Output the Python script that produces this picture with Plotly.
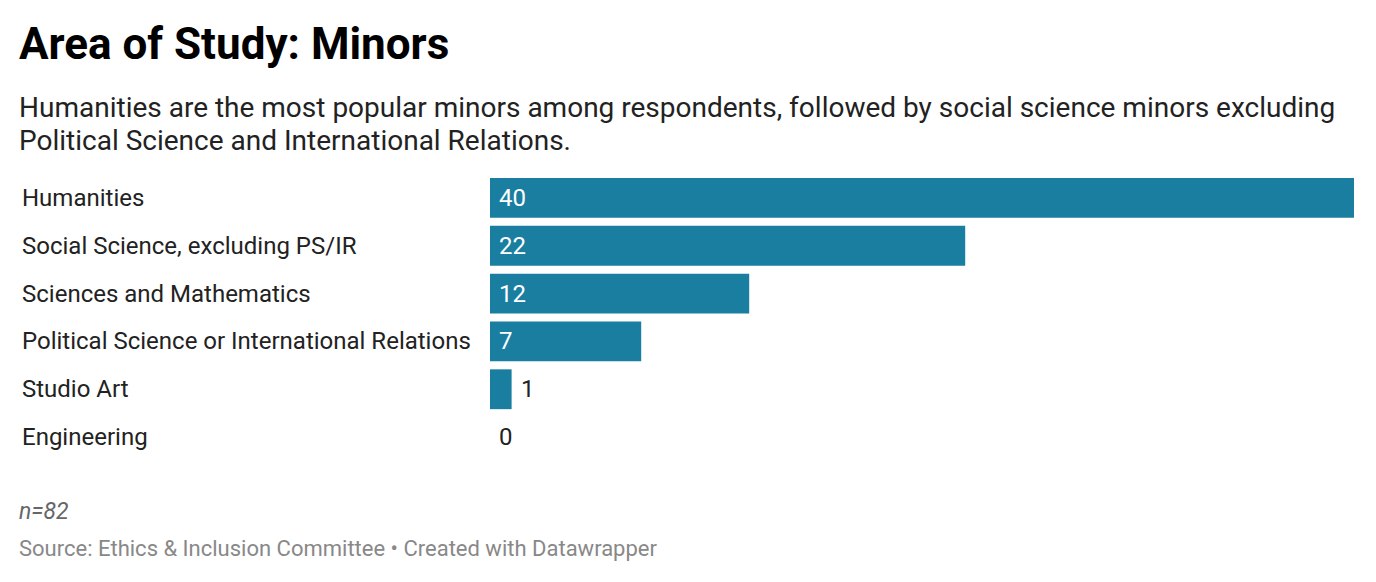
import plotly.graph_objects as go

categories = [
    "Humanities",
    "Social Science, excluding PS/IR",
    "Sciences and Mathematics",
    "Political Science or International Relations",
    "Studio Art",
    "Engineering",
]
counts = [40, 22, 12, 7, 1, 0]

title = "Area of Study: Minors"
subtitle_lines = [
    "Humanities are the most popular minors among respondents, followed by social science minors excluding",
    "Political Science and International Relations.",
]
note = "n=82"
source = "Source: Ethics & Inclusion Committee • Created with Datawrapper"

# page has an 8px body margin, so the figure is a bit smaller than the window
W, H = 1360, 566
L, R, T, B = 482, 14, 166, 112.5
plot_h = H - T - B


def py(p):
    # pixel row (figure coords) -> paper y
    return (H - B - p) / plot_h


FONT = "Roboto"
BAR = "#1a7ea0"

fig = go.Figure(go.Bar(
    x=counts, y=categories, orientation="h",
    marker=dict(color=BAR, line=dict(width=0)),
    hoverinfo="skip",
))

annotations = []
for cat, val in zip(categories, counts):
    # category label on the left
    annotations.append(dict(
        x=0, xref="paper", xshift=-(L - 12), xanchor="left",
        y=cat, yref="y", yanchor="middle",
        text=cat, showarrow=False,
        font=dict(family=FONT, size=24, color="#222222"),
    ))
    # value label, inside when the bar is wide enough
    inside = val >= 5
    annotations.append(dict(
        x=0 if inside else val, xref="x", xshift=7, xanchor="left",
        y=cat, yref="y", yanchor="middle",
        text=str(val), showarrow=False,
        font=dict(family=FONT, size=24, color="#ffffff" if inside else "#222222"),
    ))

annotations.append(dict(
    x=0, xref="paper", xshift=-(L - 9), xanchor="left",
    y=py(36), yref="paper", yanchor="middle",
    text="<b>" + title + "</b>", showarrow=False,
    font=dict(family=FONT, size=44, color="#000000")))

for i, line in enumerate(subtitle_lines):
    annotations.append(dict(
        x=0, xref="paper", xshift=-(L - 9), xanchor="left",
        y=py(99 + 33.5 * i), yref="paper", yanchor="middle",
        text=line, showarrow=False,
        font=dict(family=FONT, size=28, color="#222222")))

annotations += [
    dict(x=0, xref="paper", xshift=-(L - 9), xanchor="left",
         y=py(504), yref="paper", yanchor="middle",
         text="<i>" + note + "</i>", showarrow=False,
         font=dict(family=FONT, size=23, color="#666666")),
    dict(x=0, xref="paper", xshift=-(L - 9), xanchor="left",
         y=py(541), yref="paper", yanchor="middle",
         text=source, showarrow=False,
         font=dict(family=FONT, size=22, color="#888888")),
]

fig.update_layout(
    width=W, height=H,
    margin=dict(l=L, r=R, t=T, b=B),
    paper_bgcolor="white", plot_bgcolor="white",
    bargap=0.167,
    showlegend=False,
    annotations=annotations,
    font=dict(family=FONT),
)
fig.update_xaxes(range=[0, 40], visible=False, fixedrange=True)
fig.update_yaxes(type="category", categoryorder="array", categoryarray=categories,
                 autorange="reversed", visible=False, fixedrange=True)

fig.write_html("out.html", config={"displayModeBar": False})
